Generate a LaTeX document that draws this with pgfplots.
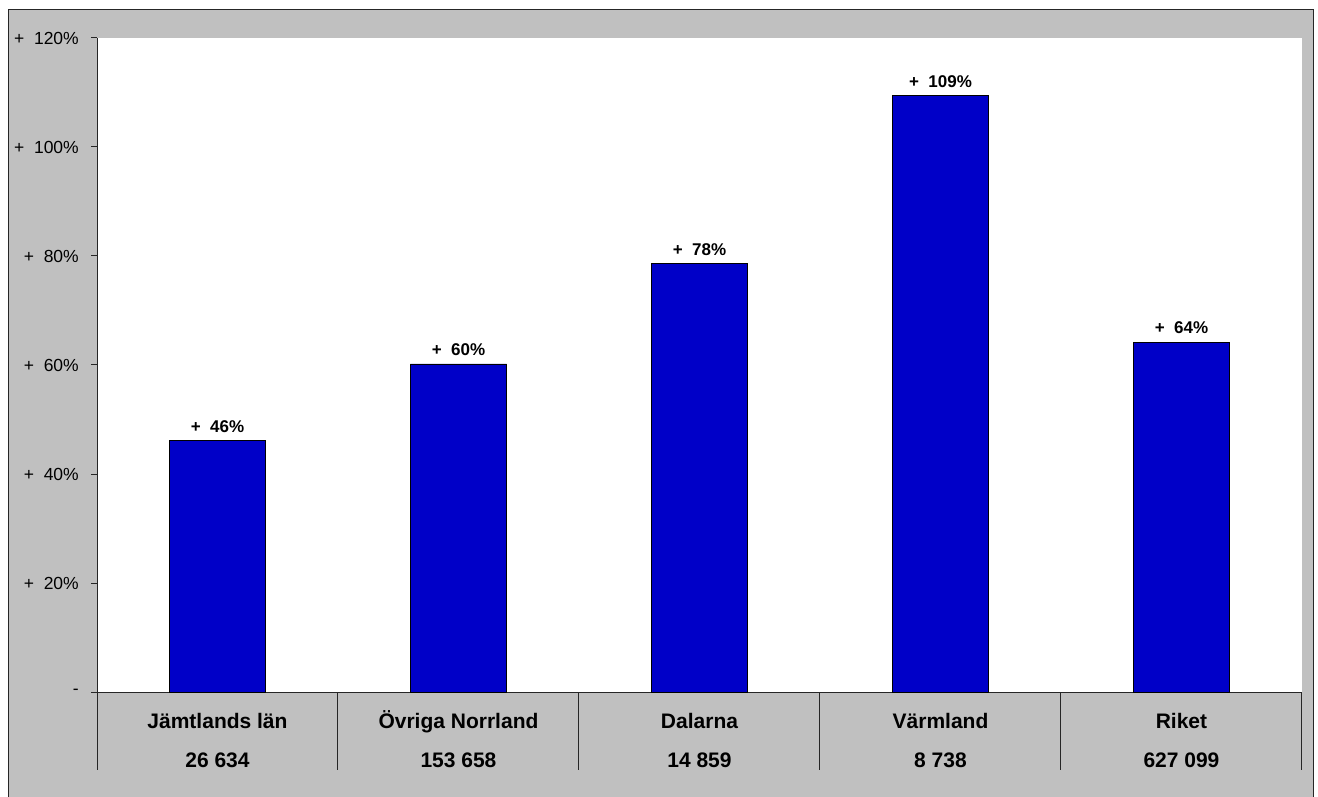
\documentclass[border=0pt]{standalone}
\usepackage{pgfplots}
\pgfplotsset{compat=1.18}
\usepackage{pgfplotstable}
\usepackage{fontspec}
\setmainfont{Liberation Sans}
\definecolor{bggray}{HTML}{C0C0C0}
\definecolor{barblue}{RGB}{0,0,200}
\pgfplotstableread{
x y label
0 46.1 {+\ \ 46\%}
1 60.2 {+\ \ 60\%}
2 78.6 {+\ \ 78\%}
3 109.4 {+\ \ 109\%}
4 64.2 {+\ \ 64\%}
}\datatable
\begin{document}
\begin{tikzpicture}[x=1pt,y=1pt]
\useasboundingbox (0pt,0pt) rectangle (1318pt,796pt);
\fill[white] (0pt,0pt) rectangle (1318pt,796pt);
\begin{scope}
\clip (0pt,0pt) rectangle (1318pt,796pt);
\draw[line width=1pt, black!85, fill=bggray] (8pt,-20pt) rectangle (1313pt,786pt);
\end{scope}
\begin{axis}[
  at={(97pt,104pt)}, anchor=south west,
  scale only axis, width=1205pt, height=654pt,
  xmin=-0.5, xmax=4.5, ymin=0, ymax=120,
  clip=false,
  axis background/.style={fill=white},
  axis x line*=bottom, axis y line*=left,
  axis line style={line width=1pt, black!85, -},
  tick align=outside,
  major tick length=6pt,
  tick style={line width=1pt, black!85},
  ytick={0,20,...,120},
  yticklabels={-, +\ \ 20\%, +\ \ 40\%, +\ \ 60\%, +\ \ 80\%, +\ \ 100\%, +\ \ 120\%},
  yticklabel style={font=\fontsize{17.5}{21}\selectfont, anchor=east, inner sep=0pt, xshift=-12pt},
  xtick={0,...,4},
  xticklabels={{\vphantom{Ö}Jämtlands län\\26 634},{\vphantom{Ö}Övriga Norrland\\153 658},{\vphantom{Ö}Dalarna\\14 859},{\vphantom{Ö}Värmland\\8 738},{\vphantom{Ö}Riket\\627 099}},
  xticklabel style={font=\fontsize{21}{39}\selectfont\bfseries, align=center, anchor=north, inner sep=0pt, yshift=-12pt},
  major x tick style={draw=none},
  extra x ticks={-0.5,0.5,1.5,2.5,3.5,4.5},
  extra x tick labels={},
  extra x tick style={major tick length=78pt, grid=none, major x tick style={draw=black!85, line width=1pt}},
]
\addplot[ybar, bar width=96pt, fill=barblue, draw=black, line width=0.8pt,
  nodes near coords, point meta=explicit symbolic,
  every node near coord/.style={font=\fontsize{17}{20}\selectfont\bfseries, anchor=south, inner sep=0pt, yshift=8pt, text=black}]
  table[x=x, y=y, meta=label]{\datatable};
\end{axis}
\end{tikzpicture}
\end{document}
